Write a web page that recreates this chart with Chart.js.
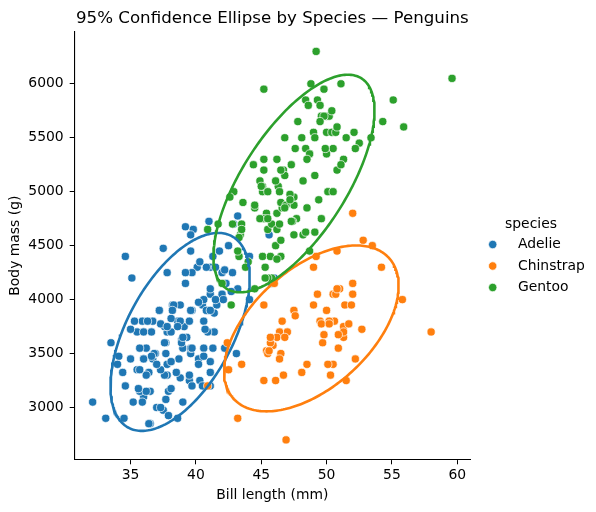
<!DOCTYPE html>
<html>
<head>
<meta charset="utf-8">
<title>Penguins confidence ellipses</title>
<script src="https://cdn.jsdelivr.net/npm/chart.js@4"></script>
<style>
  html, body { margin: 0; padding: 0; background: #fff; }
  #wrap { width: 596px; height: 512px; }
</style>
</head>
<body>
<div id="wrap"><canvas id="penguinChart" width="596" height="512"></canvas></div>
<script>
// 종류별 이름과 색
const species = ['Adelie', 'Chinstrap', 'Gentoo'];
const speciesColors = ['#1f77b4', '#ff7f0e', '#2ca02c'];

// 부리 길이 (mm) / 체중 (g)
const adelieBill = [39.1, 39.5, 40.3, 36.7, 39.3, 38.9, 39.2, 34.1, 42.0, 37.8, 37.8, 41.1, 38.6, 34.6, 36.6, 38.7, 42.5, 34.4, 46.0,
  37.8, 37.7, 35.9, 38.2, 38.8, 35.3, 40.6, 40.5, 37.9, 40.5,
  39.5, 37.2, 39.5, 40.9, 36.4, 39.2, 38.8, 42.2, 37.6, 39.8, 36.5, 40.8, 36.0, 44.1, 37.0, 39.6, 41.1, 37.5, 36.0, 42.3,
  39.6, 40.1, 35.0, 42.0, 34.5, 41.4, 39.0, 40.6, 36.5, 37.6, 35.7, 41.3, 37.6, 41.1, 36.4, 41.6, 35.5, 41.1,
  35.9, 41.8, 33.5, 39.7, 39.6, 45.8, 35.5, 42.8, 40.9, 37.2, 36.2, 42.1, 34.6, 42.9, 36.7, 35.1,
  37.3, 41.3, 36.3, 36.9, 38.3, 38.9, 35.7, 41.1, 34.0, 39.6, 36.2, 40.8, 38.1, 40.3, 33.1, 43.2,
  35.0, 41.0, 37.7, 37.8, 37.9, 39.7, 38.6, 38.2, 38.1, 43.2, 38.1, 45.6, 39.7, 42.2, 39.6, 42.7,
  38.6, 37.3, 35.7, 41.1, 36.2, 37.7, 40.2, 41.4, 35.2, 40.6, 38.8, 41.5, 39.0, 44.1, 38.5, 43.1,
  36.8, 37.5, 38.1, 41.1, 35.6, 40.2, 37.0, 39.7, 40.2, 40.6, 32.1, 40.7, 37.3, 39.0, 39.2, 36.6, 36.0, 37.8, 36.0, 41.5];
const adelieMass = [3750, 3800, 3250, 3450, 3650, 3625, 4675, 3475, 4250, 3300, 3700, 3200, 3800, 4400, 3700, 3450, 4500, 3325, 4200,
  3400, 3600, 3800, 3950, 3800, 3800, 3550, 3200, 3150, 3950,
  3250, 3900, 3300, 3900, 3325, 4150, 3950, 3550, 3300, 4650, 3150, 3900, 3100, 4400, 3000, 4600, 3425, 2975, 3450, 4150,
  3500, 4300, 3450, 4050, 2900, 3700, 3550, 3800, 2850, 3750, 3150, 4400, 3600, 4050, 2850, 3950, 3350, 4100,
  3050, 4450, 3600, 3900, 3550, 4150, 3700, 4250, 3700, 3900, 3550, 4000, 3200, 4700, 3800, 4200,
  3350, 3550, 3800, 3500, 3950, 3600, 3550, 4300, 3400, 4450, 3300, 4300, 3700, 4350, 2900, 4100,
  3725, 4725, 3075, 4250, 2925, 3550, 3750, 3900, 3175, 4775, 3825, 4600, 3200, 4275, 3900, 4075,
  2900, 3775, 3350, 3325, 3150, 3500, 3450, 3875, 3050, 4000, 3275, 4300, 3050, 4000, 3325, 3500,
  3500, 4475, 3425, 3900, 3175, 3975, 3400, 4250, 3400, 3475, 3050, 3725, 3000, 3650, 4250, 3475, 3450, 3750, 3700, 4000];

const chinstrapBill = [46.5, 50.0, 51.3, 45.4, 52.7, 45.2, 46.1, 51.3, 46.0, 51.3, 46.6, 51.7, 47.0, 52.0, 45.9, 50.5, 50.3, 58.0,
  46.4, 49.2, 42.4, 48.5, 43.2, 50.6, 46.7, 52.0, 50.5, 49.5, 46.4, 52.8, 40.9, 54.2, 42.5, 51.0, 49.7, 47.5, 47.6, 52.0,
  46.9, 53.5, 49.0, 46.2, 50.9, 45.5, 50.9, 50.8, 50.1, 49.0, 51.5, 49.8, 48.1, 51.4, 45.7, 50.7, 42.5, 52.2, 45.2, 49.3,
  50.2, 45.6, 51.9, 46.8, 45.7, 55.8, 43.5, 49.6, 50.8, 50.2];
const chinstrapMass = [3500, 3900, 3650, 3525, 3725, 3950, 3250, 3750, 4150, 3700, 3800, 3775, 3700, 4050, 3575, 4050, 3300, 3700,
  3450, 4400, 3600, 3400, 2900, 3800, 3300, 4150, 3400, 3800, 3700, 4550, 3200, 4300, 3350, 4100, 3600, 3900, 3850, 4800,
  2700, 4500, 3950, 3650, 3550, 3500, 3675, 4450, 3400, 4300, 3250, 3675, 3325, 3950, 3600, 4050, 3350, 3450, 3250, 4050,
  3800, 3525, 3950, 3650, 3650, 4000, 3400, 3775, 4100, 3775];

const gentooBill = [46.1, 50.0, 48.7, 50.0, 47.6, 46.5, 45.4, 46.7, 43.3, 46.8, 40.9, 49.0, 45.5, 48.4, 45.8, 49.3, 42.0, 49.2,
  46.2, 48.7, 50.2, 45.1, 46.5, 46.3, 42.9, 46.1, 44.5, 47.8, 48.2, 50.0, 47.3, 42.8, 45.1, 59.6, 49.1, 48.4, 42.6, 44.4,
  44.0, 48.7, 42.7, 49.6, 45.3, 49.6, 50.5, 43.6, 45.5, 50.5, 44.9, 45.2, 46.6, 48.5, 45.1, 50.1, 46.5, 45.0, 43.8, 45.5,
  43.2, 50.4, 45.3, 46.2, 45.7, 54.3, 45.8, 49.8, 46.2, 49.5, 43.5, 50.7, 47.7, 46.4, 48.2, 46.5, 46.4, 48.6, 47.5, 51.1,
  45.2, 45.2, 49.1, 52.5, 47.4, 50.0, 44.9, 50.8, 43.4, 51.3, 47.5, 52.1, 47.5, 52.2, 45.5, 49.5, 44.5, 50.8, 49.4, 46.9,
  48.4, 51.1, 48.5, 55.9, 47.2, 49.1, 47.3, 46.8, 41.7, 53.4, 43.3, 48.1, 50.5, 49.8, 43.5, 51.5, 46.2, 55.1, 44.5, 48.8,
  47.2, 46.8, 50.4, 45.2, 49.9];
const gentooMass = [4500, 5700, 4450, 5700, 5400, 4550, 4800, 5200, 4400, 5150, 4650, 5550, 4650, 5850, 4200, 5850, 4150, 6300,
  4800, 5350, 5700, 5000, 4400, 5050, 5000, 5100, 4100, 5650, 4600, 5550, 5250, 4700, 5050, 6050, 5150, 5400, 4950, 5250,
  4350, 5350, 3950, 5700, 4300, 4750, 5550, 4900, 4200, 5400, 5100, 5300, 4850, 5300, 4400, 5000, 4900, 5050, 4300, 5000,
  4450, 5550, 4200, 5300, 4400, 5650, 4700, 5700, 4650, 5800, 4700, 5550, 4750, 5000, 5100, 5200, 4700, 5800, 4600, 6000,
  4750, 5950, 4625, 5450, 4725, 5350, 4750, 5600, 4600, 5300, 4875, 5550, 4950, 5400, 4750, 5650, 4850, 5200, 4925, 4875,
  4625, 5250, 4850, 5600, 4975, 5500, 4725, 5500, 4700, 5500, 4575, 5500, 5000, 5950, 4650, 5500, 4375, 5850, 4875, 6000,
  4925, 4850, 5750, 5200, 5400];

// 눈금
const xTicks = [35, 40, 45, 50, 55, 60];
const yTicks = [3000, 3500, 4000, 4500, 5000, 5500, 6000];

const bills = [adelieBill, chinstrapBill, gentooBill];
const masses = [adelieMass, chinstrapMass, gentooMass];
const nStd = 2;

function toPoints(xs, ys) {
    return xs.map((x, i) => ({ x: x, y: ys[i] }));
}

// 공분산 타원 (데이터에서 계산)
function covEllipse(xs, ys, k) {
    const n = xs.length;
    const mx = xs.reduce((a, b) => a + b, 0) / n;
    const my = ys.reduce((a, b) => a + b, 0) / n;
    let sxx = 0, syy = 0, sxy = 0;
    for (let i = 0; i < n; i++) {
        const dx = xs[i] - mx, dy = ys[i] - my;
        sxx += dx * dx; syy += dy * dy; sxy += dx * dy;
    }
    sxx /= (n - 1); syy /= (n - 1); sxy /= (n - 1);
    const tr = sxx + syy, det = sxx * syy - sxy * sxy;
    const disc = Math.sqrt(tr * tr / 4 - det);
    const l1 = tr / 2 + disc, l2 = tr / 2 - disc;
    const theta = 0.5 * Math.atan2(2 * sxy, sxx - syy);
    const a = k * Math.sqrt(l1), b = k * Math.sqrt(l2);
    const pts = [];
    const steps = 240;
    for (let s = 0; s <= steps; s++) {
        const t = 2 * Math.PI * s / steps;
        pts.push({
            x: mx + a * Math.cos(t) * Math.cos(theta) - b * Math.sin(t) * Math.sin(theta),
            y: my + a * Math.cos(t) * Math.sin(theta) + b * Math.sin(t) * Math.cos(theta)
        });
    }
    return pts;
}

const FONT = 'DejaVu Sans';
const datasets = [];
species.forEach((name, i) => {
    datasets.push({
        label: name,
        data: toPoints(bills[i], masses[i]),
        backgroundColor: speciesColors[i],
        borderColor: '#ffffff',
        borderWidth: 0.7,
        pointRadius: 4.1,
        pointHoverRadius: 4.1,
        order: 3 - i
    });
});
species.forEach((name, i) => {
    datasets.push({
        label: name + ' ellipse',
        data: covEllipse(bills[i], masses[i], nStd),
        showLine: true,
        fill: false,
        borderColor: speciesColors[i],
        borderWidth: 2.6,
        pointRadius: 0,
        pointHoverRadius: 0,
        tension: 0,
        order: -1 - i
    });
});

// 오른쪽 범례 (matplotlib 스타일)
const sideLegend = {
    id: 'sideLegend',
    afterDraw(chart) {
        const ctx = chart.ctx;
        ctx.save();
        ctx.font = '13.9px "' + FONT + '"';
        ctx.fillStyle = '#000';
        ctx.textBaseline = 'middle';
        ctx.textAlign = 'center';
        ctx.fillText('species', 531, 224);
        ctx.textAlign = 'left';
        species.forEach((name, i) => {
            const y = 244.5 + i * 21.5;
            ctx.beginPath();
            ctx.arc(492.7, y, 4.2, 0, Math.PI * 2);
            ctx.fillStyle = speciesColors[i];
            ctx.fill();
            ctx.lineWidth = 0.7;
            ctx.strokeStyle = '#fff';
            ctx.stroke();
            ctx.fillStyle = '#000';
            ctx.fillText(name, 518, y);
        });
        ctx.restore();
    }
};

const ctx = document.getElementById('penguinChart').getContext('2d');
const penguinChart = new Chart(ctx, {
    type: 'scatter',
    data: { datasets: datasets },
    options: {
        responsive: false,
        animation: false,
        events: [],
        layout: { padding: { left: 0, right: 126, top: 0, bottom: 0 } },
        plugins: {
            legend: { display: false },
            tooltip: { enabled: false },
            title: {
                display: true,
                text: '95% Confidence Ellipse by Species — Penguins',
                fullSize: false,
                color: '#000',
                font: { family: FONT, size: 16.67, weight: 'normal' },
                padding: { top: 9, bottom: 3 }
            }
        },
        scales: {
            x: {
                type: 'linear',
                min: 30.725,
                max: 60.975,
                afterBuildTicks: (scale) => { scale.ticks = xTicks.map(v => ({ value: v })); },
                afterFit: (scale) => { scale.height = 52.7; },
                grid: { display: true, drawOnChartArea: false, drawTicks: true, tickLength: 5, tickColor: '#000', tickWidth: 1 },
                border: { display: true, color: '#000', width: 1.1 },
                ticks: { color: '#000', font: { family: FONT, size: 13.9 }, padding: 3, callback: (v) => String(v) },
                title: {
                    display: true, text: 'Bill length (mm)', color: '#000',
                    font: { family: FONT, size: 13.9 }, padding: { top: 4, bottom: 8 }
                }
            },
            y: {
                type: 'linear',
                min: 2520,
                max: 6480,
                afterBuildTicks: (scale) => { scale.ticks = yTicks.map(v => ({ value: v })); },
                afterFit: (scale) => { scale.width = 74.7; },
                grid: { display: true, drawOnChartArea: false, drawTicks: true, tickLength: 5, tickColor: '#000', tickWidth: 1 },
                border: { display: true, color: '#000', width: 1.1 },
                ticks: { color: '#000', font: { family: FONT, size: 13.9 }, padding: 6, callback: (v) => String(v) },
                title: {
                    display: true, text: 'Body mass (g)', color: '#000',
                    font: { family: FONT, size: 13.9 }, padding: { top: 7, bottom: 4 }
                }
            }
        }
    },
    plugins: [sideLegend]
});
</script>
</body>
</html>
